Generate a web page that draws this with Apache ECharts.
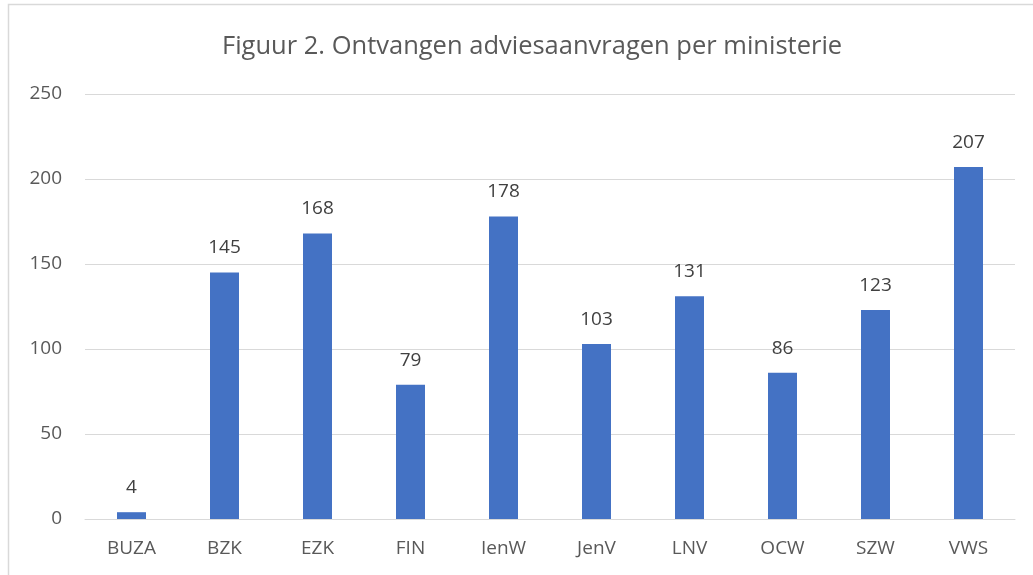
<!DOCTYPE html>
<html><head><meta charset="utf-8">
<script src="https://cdn.jsdelivr.net/npm/echarts@6/dist/echarts.min.js"></script>
<style>html,body{margin:0;padding:0;background:#fff}#c{width:1033px;height:575px}</style>
</head><body><div id="c"></div>
<script>
var titleText = 'Figuur 2. Ontvangen adviesaanvragen per ministerie';
var categories = ['BUZA','BZK','EZK','FIN','IenW','JenV','LNV','OCW','SZW','VWS'];
var values = [4,145,168,79,178,103,131,86,123,207];
var yTicks = [0,50,100,150,200,250];
var font = '"Open Sans", "Noto Sans", sans-serif';
var chart = echarts.init(document.getElementById('c'), null, {renderer:'canvas'});
chart.setOption({
  animation:false,
  backgroundColor:'#fff',
  graphic:[{type:'rect',shape:{x:8.5,y:4.5,width:1100,height:700},style:{fill:'none',stroke:'#d9d9d9',lineWidth:1.5},silent:true}],
  title:{text:titleText,left:217,top:29,textStyle:{fontFamily:font,fontSize:25.5,fontWeight:'normal',color:'#595959'}},
  grid:{left:85,right:18,top:94,bottom:56,containLabel:false},
  xAxis:{type:'category',data:categories,axisTick:{show:false},
    axisLine:{lineStyle:{color:'#d9d9d9',width:1}},
    axisLabel:{fontFamily:font,fontSize:19,color:'#595959',margin:20}},
  yAxis:{type:'value',min:yTicks[0],max:yTicks[yTicks.length-1],interval:50,
    axisLine:{show:false},axisTick:{show:false},
    splitLine:{lineStyle:{color:'#d9d9d9',width:1}},
    axisLabel:{fontFamily:font,fontSize:19,color:'#595959',margin:23}},
  series:[{type:'bar',data:values,barWidth:29,itemStyle:{color:'#4472C4'},
    label:{show:true,position:'top',distance:15,fontFamily:font,fontSize:19,color:'#404040'}}]
});
</script></body></html>
